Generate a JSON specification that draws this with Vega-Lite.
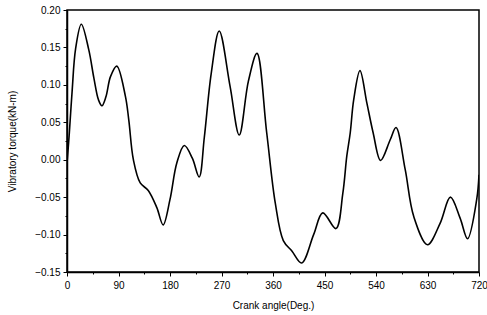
{
  "$schema": "https://vega.github.io/schema/vega-lite/v6.json",
  "width": 412,
  "height": 262,
  "autosize": "none",
  "padding": {"left": 67, "top": 10, "right": 8, "bottom": 43},
  "background": "white",
  "config": {
    "view": {"stroke": "black", "strokeWidth": 1.5},
    "font": "Liberation Sans",
    "axis": {
      "grid": false,
      "domainColor": "black",
      "domainWidth": 1.5,
      "tickColor": "black",
      "tickWidth": 1,
      "labelColor": "black",
      "labelFont": "Liberation Sans",
      "labelFontSize": 10,
      "titleFont": "Liberation Sans",
      "titleFontSize": 10,
      "titleFontWeight": "normal",
      "titleColor": "black"
    }
  },
  "data": {
    "values": [
      {"angle": 0, "torque": -0.005},
      {"angle": 4, "torque": 0.035},
      {"angle": 9, "torque": 0.092},
      {"angle": 15, "torque": 0.148},
      {"angle": 25, "torque": 0.181},
      {"angle": 38, "torque": 0.147},
      {"angle": 47, "torque": 0.109},
      {"angle": 55, "torque": 0.08},
      {"angle": 61, "torque": 0.072},
      {"angle": 68, "torque": 0.084},
      {"angle": 76, "torque": 0.111},
      {"angle": 87, "torque": 0.125},
      {"angle": 102, "torque": 0.085},
      {"angle": 108, "torque": 0.053},
      {"angle": 116, "torque": 0.0},
      {"angle": 128, "torque": -0.031},
      {"angle": 142, "torque": -0.041},
      {"angle": 157, "torque": -0.064},
      {"angle": 168, "torque": -0.087},
      {"angle": 180, "torque": -0.053},
      {"angle": 192, "torque": -0.004},
      {"angle": 205, "torque": 0.019},
      {"angle": 219, "torque": 0.002},
      {"angle": 231, "torque": -0.023},
      {"angle": 240, "torque": 0.03},
      {"angle": 252, "torque": 0.115},
      {"angle": 266, "torque": 0.172},
      {"angle": 285, "torque": 0.098},
      {"angle": 301, "torque": 0.033},
      {"angle": 317, "torque": 0.105},
      {"angle": 332, "torque": 0.142},
      {"angle": 349, "torque": 0.036},
      {"angle": 364, "torque": -0.058},
      {"angle": 378, "torque": -0.108},
      {"angle": 393, "torque": -0.122},
      {"angle": 410, "torque": -0.138},
      {"angle": 431, "torque": -0.1},
      {"angle": 447, "torque": -0.071},
      {"angle": 470, "torque": -0.092},
      {"angle": 482, "torque": -0.045},
      {"angle": 489, "torque": 0.005},
      {"angle": 495, "torque": 0.036},
      {"angle": 501, "torque": 0.08},
      {"angle": 512, "torque": 0.119},
      {"angle": 524, "torque": 0.076},
      {"angle": 535, "torque": 0.036},
      {"angle": 548, "torque": -0.001},
      {"angle": 565, "torque": 0.027},
      {"angle": 575, "torque": 0.043},
      {"angle": 591, "torque": -0.013},
      {"angle": 606, "torque": -0.076},
      {"angle": 630, "torque": -0.1135},
      {"angle": 652, "torque": -0.085},
      {"angle": 670, "torque": -0.05},
      {"angle": 687, "torque": -0.078},
      {"angle": 700, "torque": -0.1055},
      {"angle": 716, "torque": -0.053},
      {"angle": 720, "torque": -0.02}
    ]
  },
  "mark": {"type": "line", "color": "black", "strokeWidth": 1.6, "interpolate": "catmull-rom", "clip": true},
  "encoding": {
    "x": {
      "field": "angle",
      "type": "quantitative",
      "scale": {"domain": [0, 720], "nice": false, "zero": false},
      "axis": {
        "title": "Crank angle(Deg.)",
        "values": [0, 45, 90, 135, 180, 225, 270, 315, 360, 405, 450, 495, 540, 585, 630, 675, 720],
        "labelExpr": "datum.value % 90 == 0 ? datum.label : ''",
        "tickSize": {"condition": {"test": "datum.value % 90 == 0", "value": 4}, "value": 2},
        "labelPadding": 4,
        "titlePadding": 10,
        "labelFlush": false
      }
    },
    "y": {
      "field": "torque",
      "type": "quantitative",
      "scale": {"domain": [-0.15, 0.2], "nice": false, "zero": false},
      "axis": {
        "title": "Vibratory torque(kN-m)",
        "values": [-0.15, -0.125, -0.1, -0.075, -0.05, -0.025, 0, 0.025, 0.05, 0.075, 0.1, 0.125, 0.15, 0.175, 0.2],
        "format": ".2f",
        "labelExpr": "round(datum.value*1000) % 50 == 0 ? datum.label : ''",
        "tickSize": {"condition": {"test": "round(datum.value*1000) % 50 == 0", "value": 4}, "value": 2},
        "labelPadding": 3,
        "titlePadding": 17,
        "labelFlush": false
      }
    }
  }
}
